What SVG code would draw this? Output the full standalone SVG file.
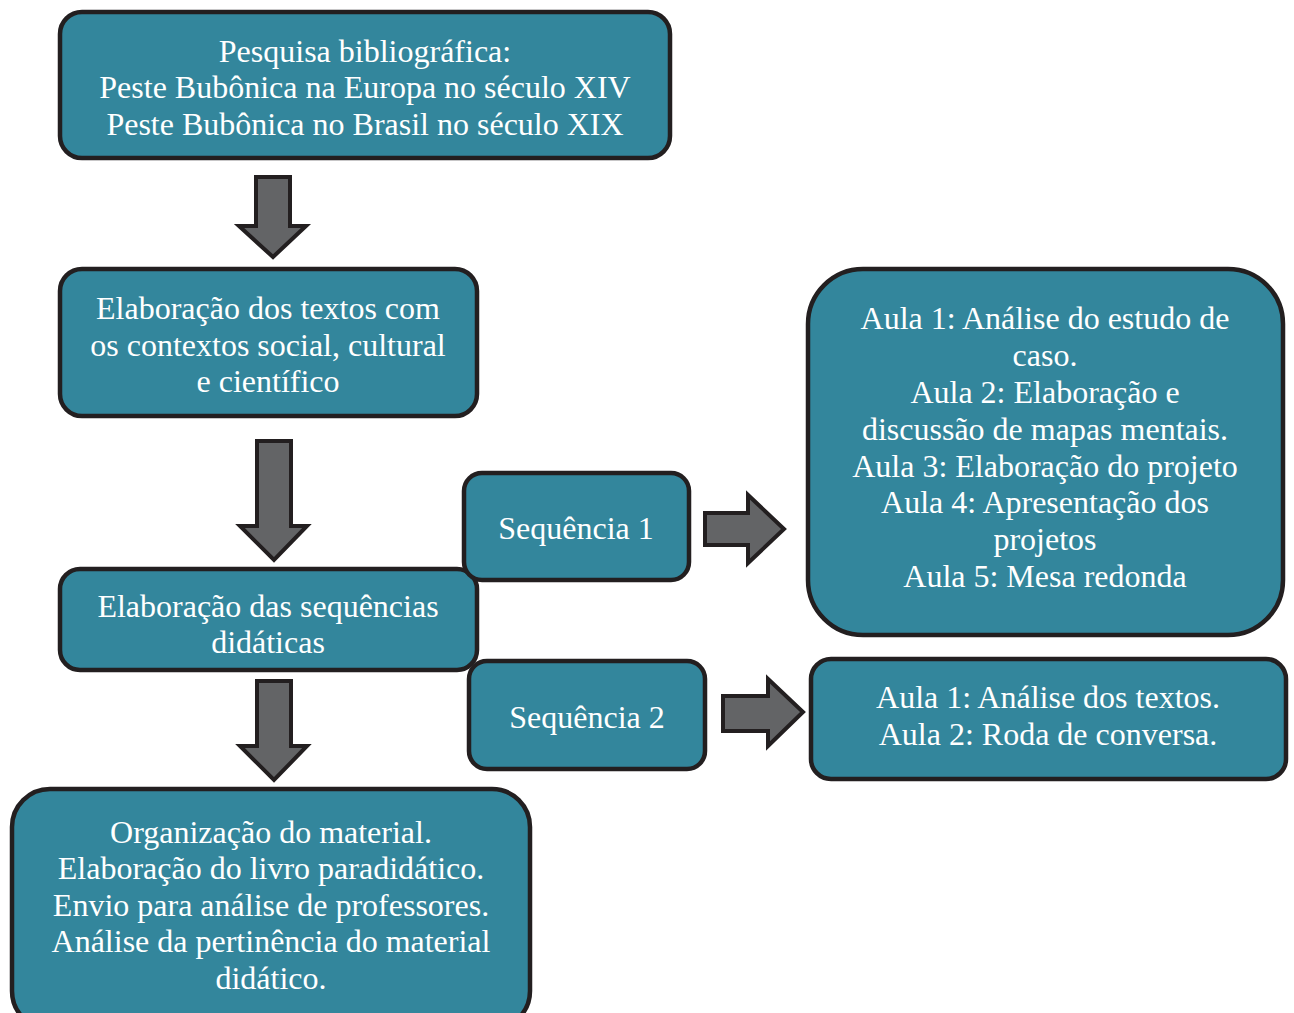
<svg xmlns="http://www.w3.org/2000/svg" width="1294" height="1013" viewBox="0 0 1294 1013">
<style>
.box{fill:#33869c;stroke:#231f20;stroke-width:4.5}
.arr{fill:#636466;stroke:#231f20;stroke-width:4;stroke-linejoin:miter}
text{font-family:"Liberation Serif","Times New Roman",serif;font-size:32px;fill:#ffffff;text-anchor:middle}
</style>
<rect width="1294" height="1013" fill="#ffffff"/>
<g id="connectors">
<path class="arr" d="M256,177 H290 V226 H306 L273,257 L239,226 H256 Z"/>
<path class="arr" d="M257,441 H291 V526 H307 L274,560 L240,526 H257 Z"/>
<path class="arr" d="M257,681 H291 V746 H307 L274,780 L240,746 H257 Z"/>
<path class="arr" d="M705,513 H748 V495 L784,529 L748,563 V545 H705 Z"/>
<path class="arr" d="M723,696 H768 V679 L803,712 L768,746 V731 H723 Z"/>
</g>
<g id="n1">
<rect class="box" x="60" y="12" width="610" height="146" rx="22"/>
<text x="365" y="62">Pesquisa bibliográfica:</text>
<text x="365" y="98">Peste Bubônica na Europa no século XIV</text>
<text x="365" y="135">Peste Bubônica no Brasil no século XIX</text>
</g>
<g id="n2">
<rect class="box" x="60" y="269" width="417" height="147" rx="22"/>
<text x="268" y="319">Elaboração dos textos com</text>
<text x="268" y="356">os contextos social, cultural</text>
<text x="268" y="392">e científico</text>
</g>
<g id="n3">
<rect class="box" x="60" y="569" width="417" height="101" rx="20"/>
<text x="268" y="617">Elaboração das sequências</text>
<text x="268" y="653">didáticas</text>
</g>
<g id="n4">
<rect class="box" x="12" y="789" width="518" height="240" rx="38"/>
<text x="271" y="843">Organização do material.</text>
<text x="271" y="879">Elaboração do livro paradidático.</text>
<text x="271" y="916">Envio para análise de professores.</text>
<text x="271" y="952">Análise da pertinência do material</text>
<text x="271" y="989">didático.</text>
</g>
<g id="seq1">
<rect class="box" x="464" y="473" width="225" height="107" rx="18"/>
<text x="576" y="539">Sequência 1</text>
</g>
<g id="aulas1">
<rect class="box" x="808" y="269" width="475" height="366" rx="55"/>
<text x="1045" y="329">Aula 1: Análise do estudo de</text>
<text x="1045" y="366">caso.</text>
<text x="1045" y="403">Aula 2: Elaboração e</text>
<text x="1045" y="440">discussão de mapas mentais.</text>
<text x="1045" y="477">Aula 3: Elaboração do projeto</text>
<text x="1045" y="513">Aula 4: Apresentação dos</text>
<text x="1045" y="550">projetos</text>
<text x="1045" y="587">Aula 5: Mesa redonda</text>
</g>
<g id="seq2">
<rect class="box" x="469" y="661" width="236" height="108" rx="18"/>
<text x="587" y="728">Sequência 2</text>
</g>
<g id="aulas2">
<rect class="box" x="811" y="659" width="475" height="120" rx="20"/>
<text x="1048" y="708">Aula 1: Análise dos textos.</text>
<text x="1048" y="745">Aula 2: Roda de conversa.</text>
</g>
</svg>
